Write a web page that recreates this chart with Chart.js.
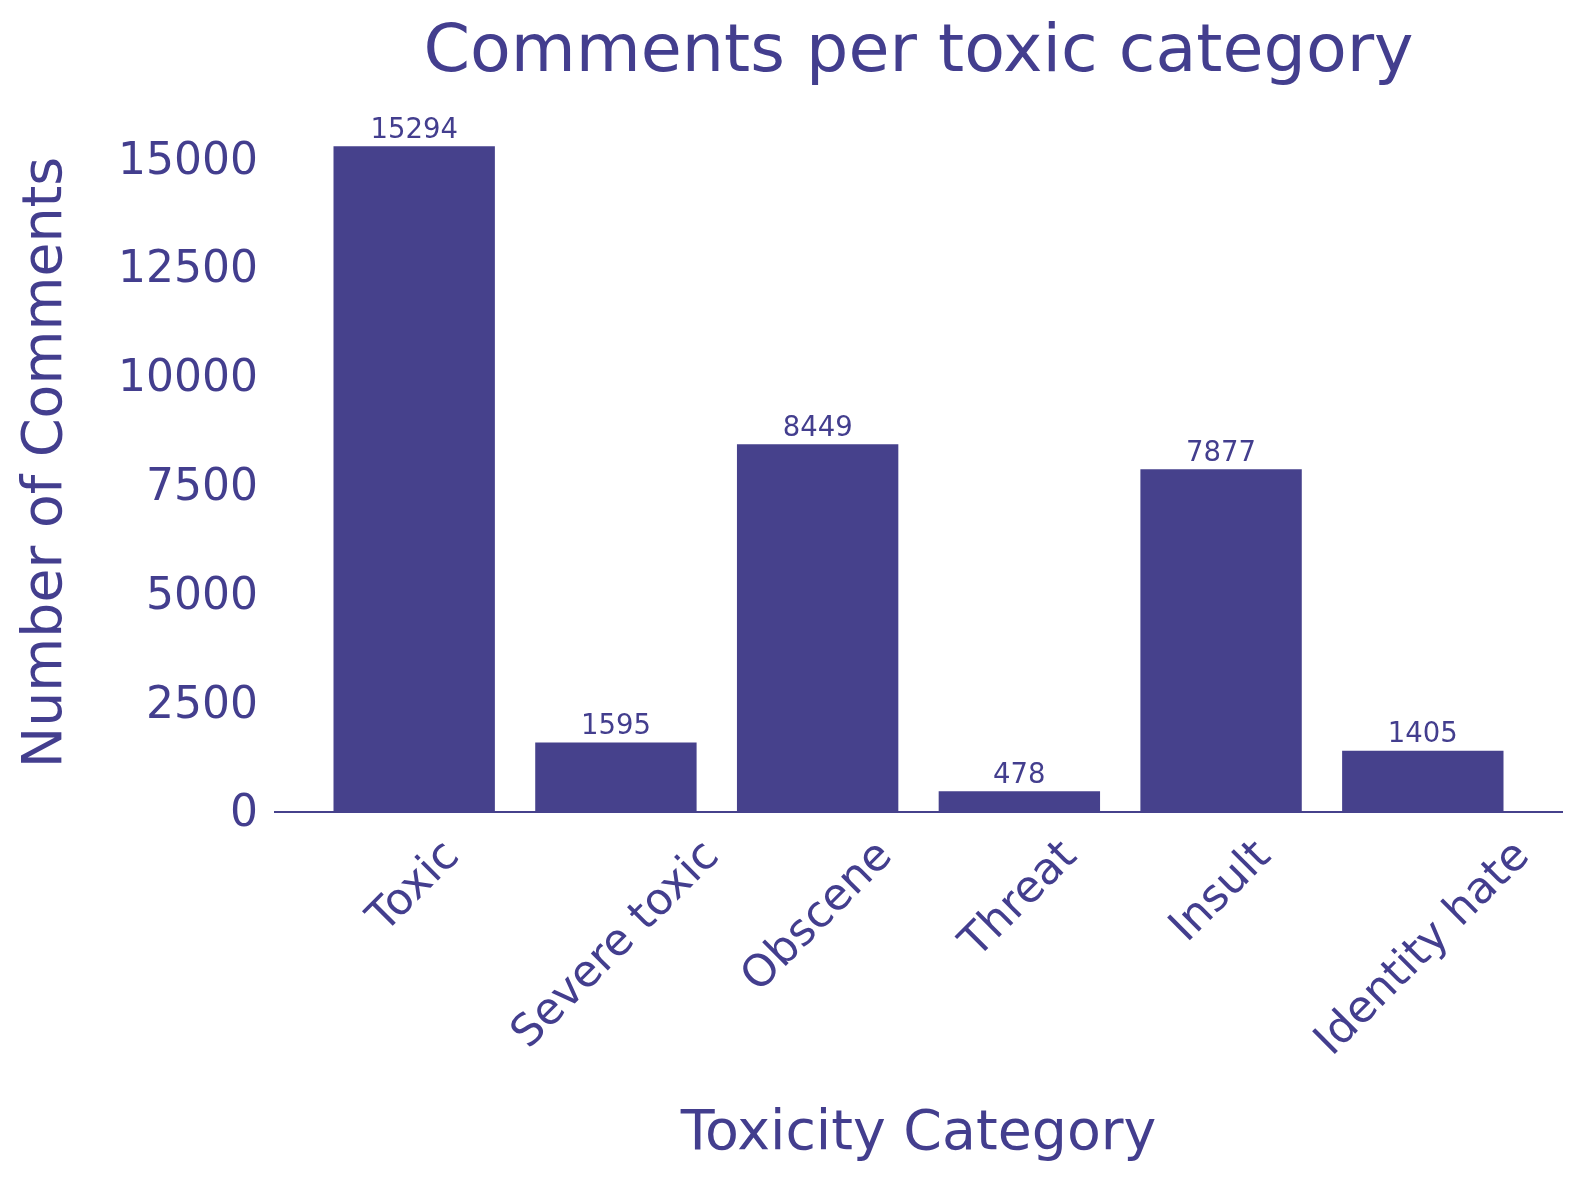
<!DOCTYPE html>
<html>
<head>
<meta charset="utf-8">
<script src="https://cdn.jsdelivr.net/npm/chart.js@4/dist/chart.umd.min.js"></script>
<style>
  html, body { margin: 0; padding: 0; background: #ffffff; }
  #wrap { width: 1581px; height: 1180px; }
</style>
</head>
<body>
<div id="wrap"><canvas id="chart" width="1581" height="1180"></canvas></div>
<script>
var categories = ['Toxic', 'Severe toxic', 'Obscene', 'Threat', 'Insult', 'Identity hate'];
var commentCounts = [15294, 1595, 8449, 478, 7877, 1405];
var yTickValues = [0, 2500, 5000, 7500, 10000, 12500, 15000];

var inkColor = '#433e8e';
var barColor = '#46418c';
var fontFamily = '"DejaVu Sans", sans-serif';

// bar value labels above each bar
var barValueLabels = {
    id: 'barValueLabels',
    afterDatasetsDraw: function (chart) {
        var ctx = chart.ctx;
        var meta = chart.getDatasetMeta(0);
        ctx.save();
        ctx.fillStyle = inkColor;
        ctx.font = '27.5px ' + fontFamily;
        ctx.textAlign = 'center';
        ctx.textBaseline = 'alphabetic';
        meta.data.forEach(function (bar, i) {
            ctx.fillText(String(commentCounts[i]), bar.x, bar.y - 8.5);
        });
        ctx.restore();
    }
};

// rotated category labels, centred on the tick like matplotlib does it
var rotatedCategoryLabels = {
    id: 'rotatedCategoryLabels',
    afterDraw: function (chart) {
        var ctx = chart.ctx;
        var xScale = chart.scales.x;
        var fs = 44;
        var top = chart.chartArea.bottom + 22;
        ctx.save();
        ctx.fillStyle = inkColor;
        ctx.font = fs + 'px ' + fontFamily;
        ctx.textAlign = 'center';
        ctx.textBaseline = 'alphabetic';
        categories.forEach(function (label, i) {
            var px = xScale.getPixelForValue(i);
            var w = ctx.measureText(label).width;
            var h = fs * 0.97;
            var cy = top + (w + h) * Math.SQRT1_2 / 2;
            ctx.save();
            ctx.translate(px, cy);
            ctx.rotate(-Math.PI / 4);
            ctx.fillText(label, 0, fs * 0.276);
            ctx.restore();
        });
        ctx.restore();
    }
};

var ctx = document.getElementById('chart').getContext('2d');
var chart = new Chart(ctx, {
    type: 'bar',
    data: {
        datasets: [{
            label: 'Number of Comments',
            data: commentCounts.map(function (v, i) { return { x: i, y: v }; }),
            backgroundColor: barColor,
            borderWidth: 0,
            categoryPercentage: 1,
            barPercentage: 0.8
        }]
    },
    options: {
        responsive: false,
        animation: false,
        devicePixelRatio: 1,
        layout: { padding: { left: 0, right: 19, top: 0, bottom: 0 } },
        plugins: {
            legend: { display: false },
            tooltip: { enabled: false },
            title: {
                display: true,
                fullSize: false,
                text: 'Comments per toxic category',
                color: inkColor,
                font: { family: fontFamily, size: 66.7, weight: 'normal' },
                padding: { top: 14, bottom: 19 }
            }
        },
        scales: {
            x: {
                type: 'linear',
                min: -0.69,
                max: 5.69,
                offset: false,
                grid: { display: false, drawTicks: false },
                border: { display: true, color: barColor, width: 2 },
                ticks: { display: false },
                afterBuildTicks: function (scale) {
                    scale.ticks = categories.map(function (c, i) { return { value: i }; });
                },
                afterFit: function (scale) { scale.height = 368; },
                title: {
                    display: true,
                    text: 'Toxicity Category',
                    color: inkColor,
                    font: { family: fontFamily, size: 55.4, weight: 'normal' },
                    padding: { top: 0, bottom: 12 }
                }
            },
            y: {
                min: 0,
                max: Math.max.apply(null, commentCounts) * 1.05,
                grid: { display: false, drawTicks: false },
                border: { display: false },
                afterBuildTicks: function (scale) {
                    scale.ticks = yTickValues.map(function (v) { return { value: v }; });
                },
                afterFit: function (scale) { scale.width = 275; },
                ticks: {
                    color: inkColor,
                    padding: 17,
                    labelOffset: 3,
                    font: { family: fontFamily, size: 44 },
                    callback: function (v) { return String(v); }
                },
                title: {
                    display: true,
                    text: 'Number of Comments',
                    color: inkColor,
                    font: { family: fontFamily, size: 55.4, weight: 'normal' },
                    padding: { top: 13, bottom: 0 }
                }
            }
        }
    },
    plugins: [barValueLabels, rotatedCategoryLabels]
});
</script>
</body>
</html>
